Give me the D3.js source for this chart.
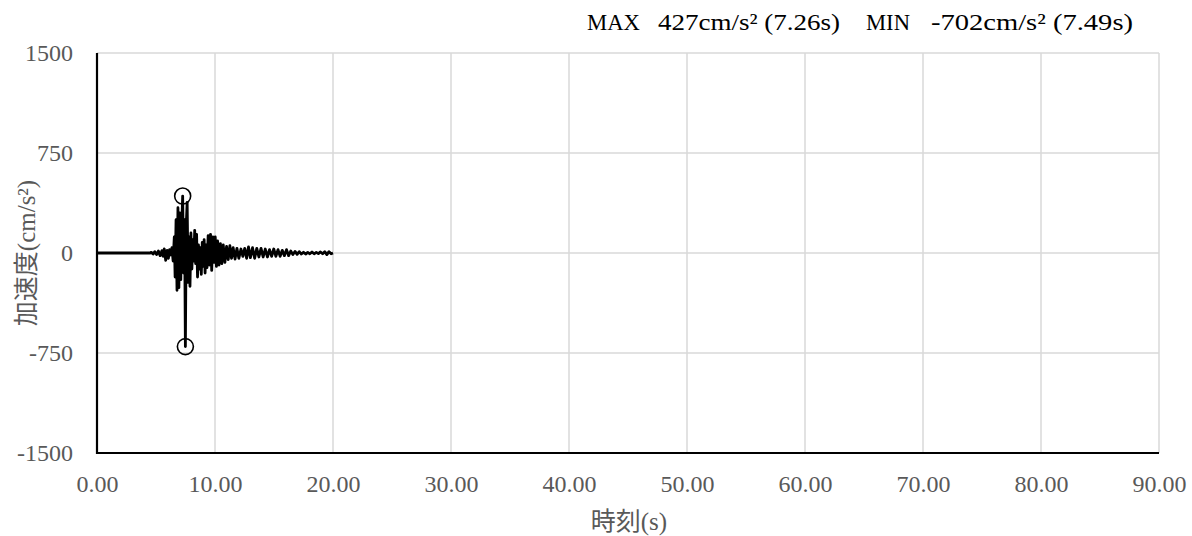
<!DOCTYPE html>
<html>
<head>
<meta charset="utf-8">
<script src="https://cdn.jsdelivr.net/npm/d3@7"></script>
<style>
  html, body { margin: 0; padding: 0; background: #fff; }
  svg { display: block; }
  text { font-family: "Liberation Serif", "DejaVu Serif", "Noto Sans CJK JP", serif; }
</style>
</head>
<body>
<svg id="chart" width="1192" height="536"></svg>
<script>
// ---- data ----
const xTicks = [0, 10, 20, 30, 40, 50, 60, 70, 80, 90];
const yTicks = [-1500, -750, 0, 750, 1500];
const timeS = [0, 4.5, 4.6, 4.75, 4.9, 5.05, 5.2, 5.35, 5.5, 5.6, 5.7, 5.82, 5.95, 6.05, 6.15, 6.25, 6.35, 6.45,
  6.55, 6.62, 6.7, 6.78, 6.86, 6.94, 7.02, 7.1, 7.18, 7.26, 7.34, 7.42, 7.49, 7.56, 7.64, 7.72, 7.8, 7.88, 7.96,
  8.04, 8.12, 8.2, 8.28, 8.36, 8.44, 8.52, 8.6, 8.68, 8.76, 8.84, 8.92, 9.0, 9.08, 9.16, 9.24, 9.32, 9.42, 9.52,
  9.62, 9.72, 9.82, 9.92, 10.02, 10.12, 10.22, 10.34, 10.46, 10.58, 10.7, 10.84, 10.98, 11.12, 11.26, 11.4, 11.54,
  11.7, 11.86, 12.02, 12.2, 12.36, 12.52, 12.68, 12.84, 13.0, 13.18, 13.36, 13.54, 13.72, 13.9, 14.08, 14.26,
  14.44, 14.62, 14.8, 14.98, 15.16, 15.34, 15.52, 15.7, 15.88, 16.06, 16.24, 16.42, 16.6, 16.78, 16.96, 17.14,
  17.32, 17.5, 17.68, 17.86, 18.04, 18.22, 18.4, 18.58, 18.76, 18.94, 19.12, 19.3, 19.48, 19.66, 19.84, 20.0];
const accel = [0, 0, 5, -8, 10, -12, 15, -20, 18, -25, 30, -55, 20, -40, 25, -15, 40, -60,
  120, -180, 250, -280, 340, -260, 300, -200, 200, 427, -150, 250, -702, 200, 380, -220, 120, -250, 150,
  -120, 100, -60, 170, -80, 140, -180, 60, -120, 40, -160, 80, -100, 100, -150, 60, -110, 130, -90,
  140, -130, 120, -70, 120, -100, 90, -90, 70, -80, 60, -70, 50, -50, 55, -40, 40,
  -45, 35, -40, 30, -25, 35, -40, 45, -35, 40, -40, 35, -30, 35, -30, 30,
  -30, 25, -25, 30, -25, 25, -25, 20, -20, 25, -20, 15, -12, 12, -10, 10,
  -8, 6, -8, 5, -6, 8, -6, 5, -5, 8, -6, 10, -12, 10, -6, 0];
const peakTimes = [7.26, 7.49];
const peakValues = [427, -702];
const headerLabels = ["MAX", "427cm/s\u00B2 (7.26s)", "MIN", "-702cm/s\u00B2 (7.49s)"];
const yLabel = "加速度(cm/s\u00B2)";
const xLabel = "時刻(s)";

// ---- layout ----
const svg = d3.select("#chart");
const mLeft = 97, mRight = 1159, mTop = 53, mBottom = 453;
const x = d3.scaleLinear().domain([0, 90]).range([mLeft, mRight]);
const y = d3.scaleLinear().domain([-1500, 1500]).range([mBottom, mTop]);

// grid
svg.append("g").selectAll("line").data(xTicks.slice(1)).join("line")
  .attr("x1", d => x(d)).attr("x2", d => x(d)).attr("y1", mTop).attr("y2", mBottom)
  .attr("stroke", "#d9d9d9").attr("stroke-width", 1.5);
svg.append("g").selectAll("line").data(yTicks.slice(1)).join("line")
  .attr("x1", mLeft).attr("x2", mRight).attr("y1", d => y(d)).attr("y2", d => y(d))
  .attr("stroke", "#d9d9d9").attr("stroke-width", 1.5);

// axes
const xAxis = d3.axisBottom(x).tickValues(xTicks).tickFormat(d3.format(".2f")).tickSize(0).tickPadding(22);
const gx = svg.append("g").attr("transform", `translate(0,${mBottom})`).call(xAxis);
gx.attr("font-family", null);
gx.select(".domain").remove();
gx.selectAll("text").attr("font-size", 24).attr("fill", "#595959");

const yAxis = d3.axisLeft(y).tickValues(yTicks).tickFormat(d => String(d)).tickSize(0).tickPadding(24);
const gy = svg.append("g").attr("transform", `translate(${mLeft},0)`).call(yAxis);
gy.attr("font-family", null);
gy.select(".domain").remove();
gy.selectAll("text").attr("font-size", 24).attr("fill", "#595959");

// axis lines
svg.append("line").attr("x1", mLeft).attr("x2", mLeft).attr("y1", mTop).attr("y2", mBottom + 1)
  .attr("stroke", "#000").attr("stroke-width", 2.2);
svg.append("line").attr("x1", mLeft - 1).attr("x2", mRight).attr("y1", mBottom).attr("y2", mBottom)
  .attr("stroke", "#000").attr("stroke-width", 2.2);

// waveform
const pts = timeS.map((t, i) => [t, accel[i]]);
svg.append("path").datum(pts)
  .attr("d", d3.line().x(d => x(d[0])).y(d => y(d[1])))
  .attr("fill", "none").attr("stroke", "#000").attr("stroke-width", 2.8)
  .attr("stroke-linejoin", "round");

// peak circles
svg.append("g").selectAll("circle").data(peakTimes.map((t, i) => [t, peakValues[i]])).join("circle")
  .attr("cx", d => x(d[0])).attr("cy", d => y(d[1])).attr("r", 8)
  .attr("fill", "none").attr("stroke", "#000").attr("stroke-width", 1.6);

// header
const headerX = [587, 658, 866, 931];
const headerW = [53, 182, 44, 202];
svg.append("g").selectAll("text").data(headerLabels).join("text")
  .attr("x", (d, i) => headerX[i]).attr("y", 30)
  .attr("font-size", 23).attr("fill", "#000")
  .attr("textLength", (d, i) => headerW[i]).attr("lengthAdjust", "spacingAndGlyphs")
  .text(d => d);

// axis titles
svg.append("text").attr("transform", `translate(35,${y(0)}) rotate(-90)`)
  .attr("text-anchor", "middle").attr("font-size", 25).attr("fill", "#595959").text(yLabel);
svg.append("text").attr("x", 629).attr("y", 530).attr("text-anchor", "middle")
  .attr("font-size", 25).attr("fill", "#595959").text(xLabel);
</script>
</body>
</html>
